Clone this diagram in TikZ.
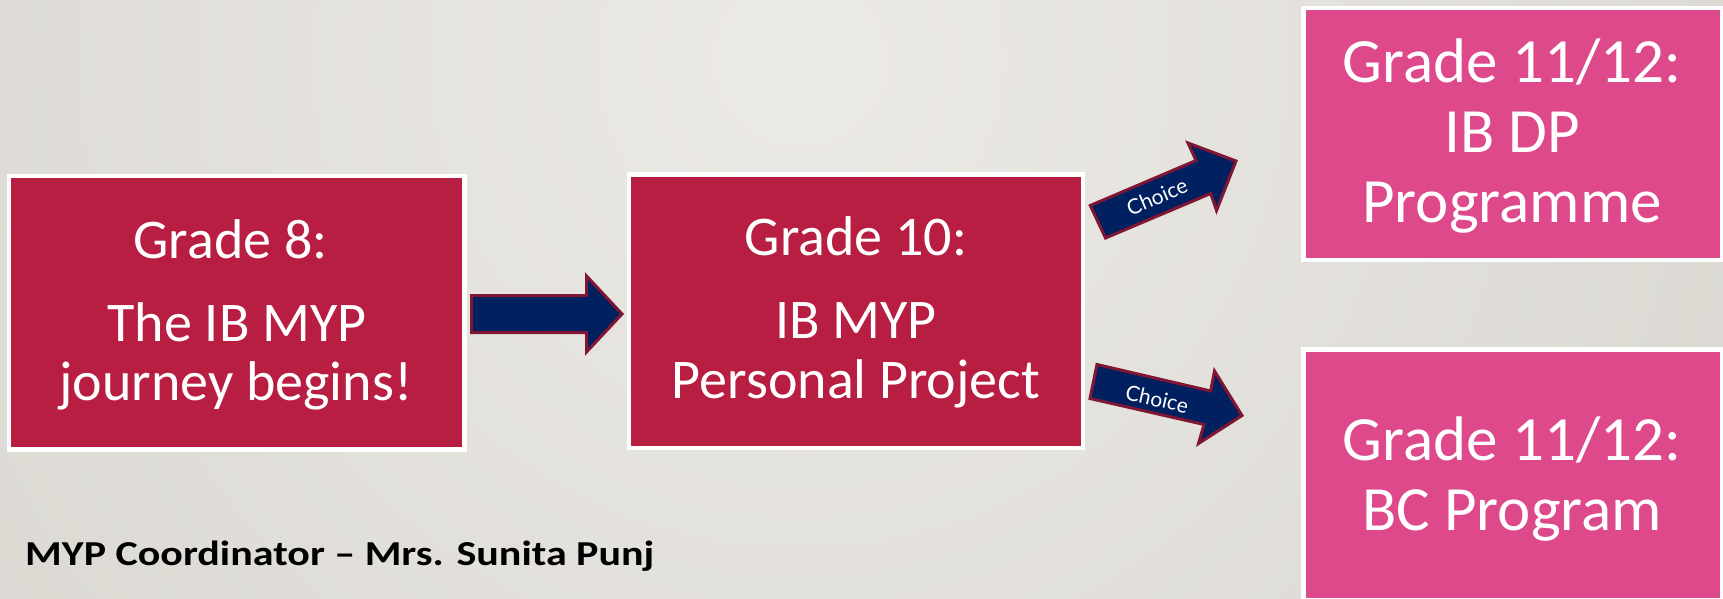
\documentclass[tikz,border=0pt]{standalone}
\usepackage{fontspec}
\setmainfont{Carlito}
\newfontfamily\choicefont{Lato}
\definecolor{bgL}{HTML}{ECEAE6}
\definecolor{bgD}{HTML}{D9D6D0}
\definecolor{boxred}{HTML}{B81E42}
\definecolor{boxpink}{HTML}{DE498C}
\definecolor{navy}{HTML}{002060}
\definecolor{arrowred}{HTML}{7F1734}
\begin{document}
\begin{tikzpicture}[x=1pt,y=-1pt,
  redbox/.style={draw=white, fill=boxred, line width=4.5pt, inner sep=0pt},
  pinkbox/.style={draw=white, fill=boxpink, line width=4.5pt, inner sep=0pt},
  midtxt/.style={text=white, inner sep=0pt, anchor=base, font=\fontsize{56}{60}\selectfont},
  bigtxt/.style={text=white, inner sep=0pt, anchor=base, font=\fontsize{63}{68}\selectfont},
  blockarrow/.style={fill=navy, draw=arrowred, line width=3pt, line join=miter},
  choicetxt/.style={text=white, inner sep=0pt, font=\choicefont\fontsize{21}{23}\selectfont}]
\useasboundingbox (0,0) rectangle (1723,599);
\begin{scope}
  \clip (0,0) rectangle (1723,599);
  \shade[inner color=bgL, outer color=bgD] (800,60) circle (1150);
\end{scope}

% boxes
\node[redbox, minimum width=455.5pt, minimum height=273.3pt] (g8) at (236.7,312.8) {};
\node[redbox, minimum width=453.8pt, minimum height=273.3pt] (g10) at (855.9,311.2) {};
\node[pinkbox, minimum width=419.4pt, minimum height=251.7pt] (dp) at (1513,133.9) {};
\node[pinkbox, minimum width=419.4pt, minimum height=251.4pt] (bc) at (1513,475) {};

% texts
\node[midtxt] (g8a) at (230.5,258) {Grade 8:};
\node[midtxt] (g8b) at (237,341.7) {The IB MYP};
\node[midtxt] (g8c) at (236,400) {journey begins!};
\node[midtxt] (g10a) at (856,255) {Grade 10:};
\node[midtxt] (g10b) at (856,338.3) {IB MYP};
\node[midtxt] (g10c) at (856,398.3) {Personal Project};
\node[bigtxt] (dpa) at (1512,83) {Grade 11/12:};
\node[bigtxt] (dpb) at (1512,153) {IB DP};
\node[bigtxt] (dpc) at (1512,222) {Programme};
\node[bigtxt] (bca) at (1512,460) {Grade 11/12:};
\node[bigtxt] (bcb) at (1512,530) {BC Program};

% arrows
\draw[blockarrow] (471.5,295.5) -- (586.5,295.5) -- (586.5,276) -- (622,314) -- (586.5,352) -- (586.5,332.5) -- (471.5,332.5) -- cycle;
\draw[blockarrow] (1105.5,238) -- (1090.3,205.5) -- (1196,160.5) -- (1188,143) -- (1236,161) -- (1216.5,210.5) -- (1210.7,193.5) -- cycle;
\draw[blockarrow] (1097,364.5) -- (1090,398.5) -- (1204,424.5) -- (1198.5,443.5) -- (1242,415.5) -- (1214.5,371) -- (1210.7,391) -- cycle;
\node[choicetxt, rotate=23] (ch1) at (1157,197) {Choice};
\node[choicetxt, rotate=-12.8] (ch2) at (1157,399) {Choice};

% footer
\node[anchor=base west, inner sep=0pt, font=\bfseries\fontsize{35}{40}\selectfont, xscale=1.2] (coord) at (25,565) {MYP Coordinator – Mrs. Sunita Punj};
\end{tikzpicture}
\end{document}
